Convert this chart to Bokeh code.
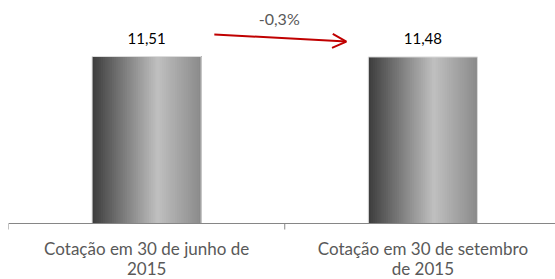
from bokeh.plotting import figure
from bokeh.models import Range1d, Arrow, OpenHead, Span
from bokeh.core.properties import value
from bokeh.embed import file_html
from bokeh.resources import INLINE

categories = ["Cotação em 30 de junho de\n2015", "Cotação em 30 de setembro\nde 2015"]
values = [11.51, 11.48]
value_labels = ["11,51", "11,48"]
change_label = "-0,3%"

FONT = "Lato"
n = len(categories)
xs = [i + 0.5 for i in range(n)]
bar_w = 0.395
ymax = 15.37
AXIS_Y = 223          # pixel row of the baseline from the top
H = 279
px = ymax / AXIS_Y    # data units per pixel
ymin = -(H - AXIS_Y) * px

p = figure(width=555, height=H, output_backend="svg", toolbar_location=None,
           x_range=Range1d(0, 1.98), y_range=Range1d(ymin, ymax),
           x_axis_location=None, y_axis_location=None,
           min_border_left=8, min_border_right=0, min_border_top=0, min_border_bottom=0)
p.outline_line_color = None
p.xgrid.visible = False
p.ygrid.visible = False
p.background_fill_color = "white"
p.border_fill_color = "white"

# horizontal gray gradient drawn as overlapping strips
def shade(t):
    stops = [(0.0, 60), (0.6, 192), (1.0, 138)]
    c = stops[-1][1]
    for (t0, c0), (t1, c1) in zip(stops[:-1], stops[1:]):
        if t0 <= t <= t1:
            c = c0 + (c1 - c0) * (t - t0) / (t1 - t0)
            break
    c = int(round(c))
    return "#%02x%02x%02x" % (c, c, c)

N = 50
sl, sr, stop, sbot, scol = [], [], [], [], []
for x, v in zip(xs, values):
    for k in range(N):
        t = k / N
        sl.append(x - bar_w / 2 + t * bar_w)
        sr.append(x + bar_w / 2)
        stop.append(v)
        sbot.append(0)
        scol.append(shade((k + 0.5) / N))
p.quad(left=sl, right=sr, top=stop, bottom=sbot, fill_color=scol, line_color=None)
p.vbar(x=xs, top=values, bottom=0, width=bar_w, fill_color=None, line_color="#dcdcdc", line_width=1)

# value labels
p.text(x=xs, y=values, text=value_labels, text_font=value(FONT), text_font_size="15px",
       text_color="#000000", text_align="center", text_baseline="bottom", y_offset=-13)

# arrow and change label
p.add_layout(Arrow(end=OpenHead(size=14, line_color="#c00000", line_width=2),
                   x_start=xs[0] + 0.245, y_start=values[0] + 1.52,
                   x_end=xs[1] - 0.277, y_end=values[1] + 1.06,
                   line_color="#c00000", line_width=2))
p.text(x=[sum(xs) / 2 - 0.02], y=[values[0] + 1.52], text=[change_label], text_font=value(FONT),
       text_font_size="16px", text_color="#595959", text_align="center",
       text_baseline="bottom", y_offset=-6)

# category axis: baseline and boundary ticks
p.add_layout(Span(location=0, dimension="width", line_color="#868686", line_width=1))
bounds = list(range(n + 1))
p.segment(x0=bounds, y0=[0] * len(bounds), x1=bounds, y1=[-6 * px] * len(bounds),
          line_color="#868686", line_width=1)

# category labels (two lines each) below the axis
lx, ly, lt = [], [], []
for x, cat in zip(xs, categories):
    for j, line in enumerate(cat.split("\n")):
        lx.append(x)
        ly.append(-(25 + 20 * j) * px)
        lt.append(line)
p.text(x=lx, y=ly, text=lt, text_font=value(FONT), text_font_size="17px",
       text_color="#595959", text_align="center", text_baseline="alphabetic")

open("out.html", "w").write(file_html(p, INLINE))
